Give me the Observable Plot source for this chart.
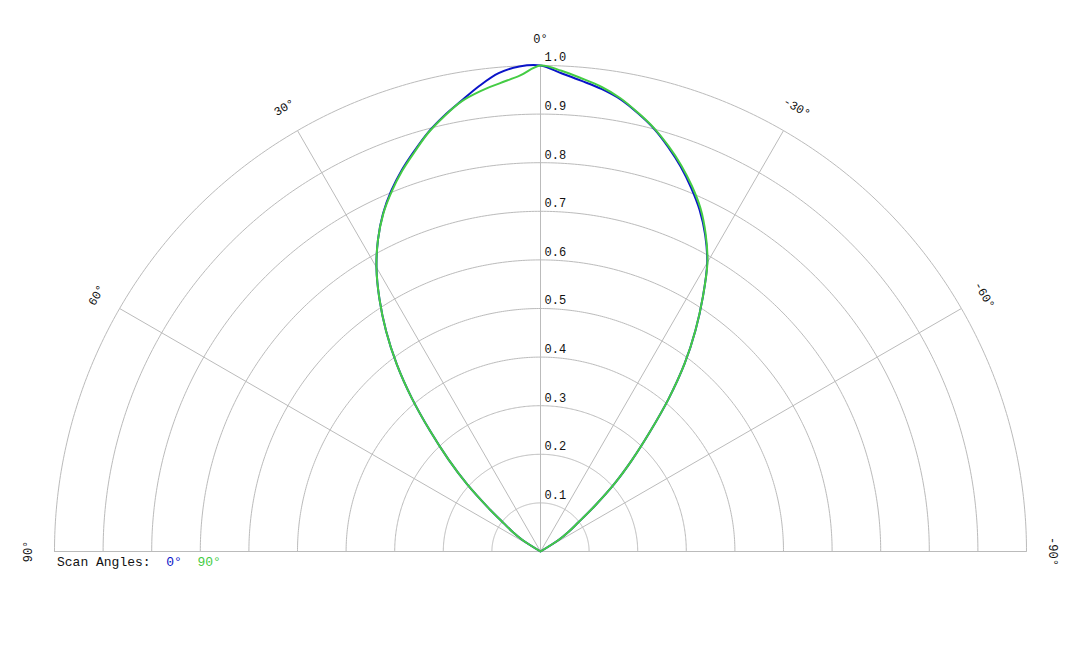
<!DOCTYPE html>
<html>
<head>
<meta charset="utf-8">
<script src="https://cdn.jsdelivr.net/npm/d3@7"></script>
<script src="https://cdn.jsdelivr.net/npm/@observablehq/plot@0.6"></script>
<style>
  html, body { margin: 0; padding: 0; background: #fff; }
  #chart svg { display: block; }
</style>
</head>
<body>
<div id="chart"></div>
<script>
// Scan angle (degrees, positive = left of boresight) and normalized pattern
const angles = [90, 80, 70, 60, 57.5, 55, 52.5, 50, 47.5, 45, 42.5, 40, 37.5, 35, 32.5, 30, 27.5, 25, 22.5, 20, 17.5, 15, 12.5, 10, 7.5, 5, 2.5, 0,
  -2.5, -5, -7.5, -10, -12.5, -15, -17.5, -20, -22.5, -25, -27.5, -30, -32.5, -35, -37.5, -40, -42.5, -45, -47.5, -50, -52.5, -55, -57.5, -60, -70, -80, -90];

const scan0 = [0, 0, 0, 0, 0.044, 0.069, 0.095, 0.142, 0.205, 0.268, 0.336, 0.412, 0.486, 0.554, 0.617, 0.675, 0.724, 0.767, 0.803, 0.835, 0.864, 0.893, 0.918, 0.941, 0.966, 0.988, 0.999, 1.000,
  0.985, 0.972, 0.960, 0.945, 0.924, 0.901, 0.873, 0.843, 0.810, 0.775, 0.734, 0.686, 0.622, 0.556, 0.487, 0.410, 0.332, 0.266, 0.206, 0.145, 0.097, 0.070, 0.044, 0, 0, 0, 0];

const scan90 = [0, 0, 0, 0, 0.044, 0.069, 0.095, 0.142, 0.205, 0.268, 0.336, 0.412, 0.486, 0.554, 0.617, 0.675, 0.724, 0.766, 0.801, 0.833, 0.862, 0.892, 0.917, 0.940, 0.955, 0.967, 0.980, 1.000,
  0.990, 0.977, 0.964, 0.947, 0.925, 0.902, 0.875, 0.846, 0.814, 0.779, 0.736, 0.687, 0.622, 0.556, 0.487, 0.410, 0.332, 0.266, 0.206, 0.145, 0.097, 0.070, 0.044, 0, 0, 0, 0];

const seriesNames = ["0°", "90°"];
const seriesColors = ["#0a14c8", "#44cc44"];

const ringValues = [0.1, 0.2, 0.3, 0.4, 0.5, 0.6, 0.7, 0.8, 0.9, 1.0];
const spokeAngles = [60, 30, 0, -30, -60];
const angleLabels = [90, 60, 30, 0, -30, -60, -90];

const rad = d => d * Math.PI / 180;
const px = (a, r) => -r * Math.sin(rad(a));
const py = (a, r) => r * Math.cos(rad(a));

const patterns = [];
[scan0, scan90].forEach((vals, s) => {
  angles.forEach((a, i) => patterns.push({series: seriesNames[s], a, r: vals[i]}));
});

const ringPts = [];
ringValues.forEach(v => {
  d3.range(-90, 90.001, 0.5).forEach(a => ringPts.push({ring: v, a}));
});

const labelR = 1.055;
const font = "'Liberation Mono', 'DejaVu Sans Mono', monospace";

const chart = Plot.plot({
  width: 1080,
  height: 648,
  marginLeft: 54,
  marginRight: 54,
  marginTop: 65,
  marginBottom: 97,
  x: {domain: [-1, 1], axis: null},
  y: {domain: [0, 1], axis: null},
  color: {domain: seriesNames, range: seriesColors},
  style: {fontFamily: font, background: "#fff"},
  marks: [
    Plot.line(ringPts, {x: d => px(d.a, d.ring), y: d => py(d.a, d.ring), z: "ring", stroke: "#bbbbbb", strokeWidth: 1}),
    Plot.link(spokeAngles, {x1: 0, y1: 0, x2: a => px(a, 1), y2: a => py(a, 1), stroke: "#bbbbbb", strokeWidth: 1}),
    Plot.ruleY([0], {x1: -1, x2: 1, stroke: "#bbbbbb", strokeWidth: 1}),
    Plot.line(patterns, {x: d => px(d.a, d.r), y: d => py(d.a, d.r), z: "series", stroke: "series", strokeWidth: 2, curve: "catmull-rom"}),
    Plot.text(ringValues, {x: 0, y: d => d, text: d => d.toFixed(1), textAnchor: "start", dx: 4, dy: -8, fontSize: 12, fill: "#111"}),
    Plot.text(angleLabels, {x: a => px(a, labelR), y: a => py(a, labelR), text: a => `${a}°`, rotate: a => -a, textAnchor: "middle", fontSize: 12, fill: "#111"})
  ]
});

document.getElementById("chart").appendChild(chart);

// Legend below the baseline, positioned through the chart's scales
const sx = chart.scale("x"), sy = chart.scale("y");
const legend = d3.select(chart).append("text")
  .attr("x", sx.apply(-1) + 3)
  .attr("y", sy.apply(0) + 15)
  .attr("text-anchor", "start")
  .attr("font-size", 13)
  .attr("font-family", font)
  .attr("xml:space", "preserve")
  .style("white-space", "pre");
legend.append("tspan").attr("fill", "#111").text("Scan Angles:  ");
seriesNames.forEach((n, i) => {
  legend.append("tspan").attr("fill", seriesColors[i]).text(n + (i < seriesNames.length - 1 ? "  " : ""));
});
</script>
</body>
</html>
